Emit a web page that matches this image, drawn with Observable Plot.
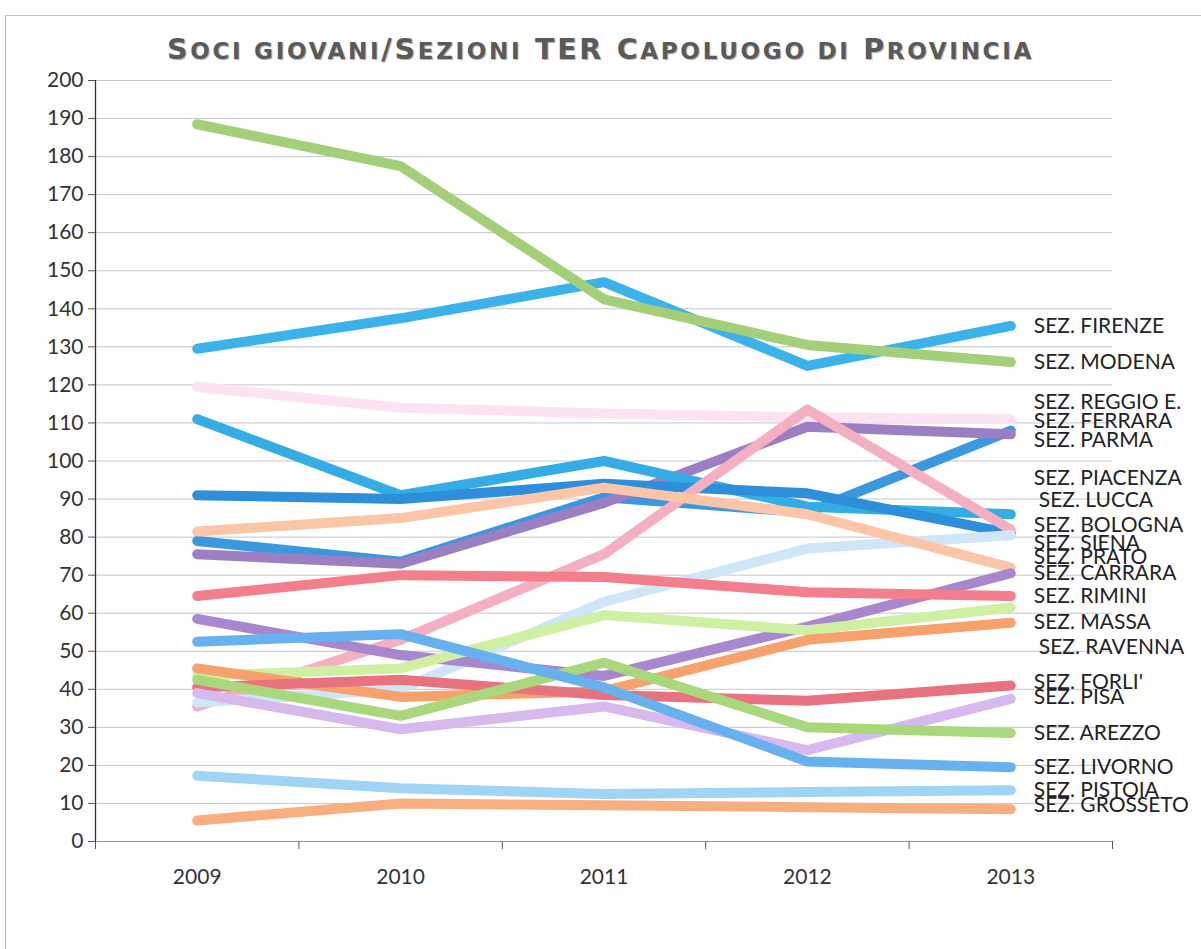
<!DOCTYPE html>
<html>
<head>
<meta charset="utf-8">
<script src="https://cdn.jsdelivr.net/npm/d3@7"></script>
<script src="https://cdn.jsdelivr.net/npm/@observablehq/plot@0.6"></script>
<style>
  html, body { margin: 0; padding: 0; background: #fff; }
  body { width: 1201px; height: 949px; overflow: hidden; position: relative; font-family: Lato, "Open Sans", sans-serif; }
  #frame { position: absolute; left: 5px; top: 15px; width: 1196px; height: 934px; border-left: 1px solid #b8b8b8; border-top: 1px solid #c4c4c4; box-sizing: border-box; }
  #title { position: absolute; top: 36px; left: 0; width: 1201px; text-align: center; white-space: nowrap; font-family: "DejaVu Sans", Verdana, sans-serif; font-weight: bold; color: #5a5a5a; text-shadow: 1px 1px 1px #b0b0b0; line-height: 1; }
  #title .b { font-size: 28.5px; }
  #title .s { font-size: 23px; }
  #chart { position: absolute; top: 70px; left: 0; }
</style>
</head>
<body>
<div id="frame"></div>
<div id="title"><span id="tt"><span class="b">S</span><span class="s">OCI GIOVANI</span><span class="b">/S</span><span class="s">EZIONI</span><span class="b"> TER C</span><span class="s">APOLUOGO DI</span><span class="b"> P</span><span class="s">ROVINCIA</span></span></div>
<div id="chart"></div>
<script>
// ---- data ----
const years = [2009, 2010, 2011, 2012, 2013];
const yTicks = [0, 10, 20, 30, 40, 50, 60, 70, 80, 90, 100, 110, 120, 130, 140, 150, 160, 170, 180, 190, 200];

const sections = [
  "SEZ. FIRENZE", "SEZ. MODENA", "SEZ. REGGIO E.", "SEZ. FERRARA", "SEZ. PARMA",
  "SEZ. PIACENZA", "SEZ. LUCCA", "SEZ. BOLOGNA", "SEZ. SIENA", "SEZ. PRATO",
  "SEZ. CARRARA", "SEZ. RIMINI", "SEZ. MASSA", "SEZ. RAVENNA", "SEZ. FORLI'",
  "SEZ. PISA", "SEZ. AREZZO", "SEZ. LIVORNO", "SEZ. PISTOIA", "SEZ. GROSSETO"
];

const firenze  = [129.5, 137.5, 147, 125, 135.5];
const modena   = [188.5, 177.5, 142.5, 130.5, 126];
const reggioE  = [119.5, 114, 112.5, 111.5, 111];
const ferrara  = [79, 73.5, 90.5, 86.5, 108];
const parma    = [75.5, 73, 89, 109, 107];
const piacenza = [111, 91, 100, 88, 86];
const lucca    = [91, 90, 94, 91.5, 81];
const bologna  = [35.5, 53, 75.5, 113.5, 82];
const siena    = [36.5, 40, 63, 77, 80.5];
const prato    = [81.5, 85, 93, 86, 72];
const carrara  = [58.5, 49, 43.5, 56.5, 70.5];
const rimini   = [64.5, 70, 69.5, 65.5, 64.5];
const massa    = [43.5, 45.5, 59.5, 55.5, 61.5];
const ravenna  = [45.5, 38, 39.5, 53, 57.5];
const forli    = [40.5, 42.5, 38.5, 37, 41];
const pisa     = [39, 29.5, 35.5, 24, 37.5];
const arezzo   = [42.5, 33, 47, 30, 28.5];
const livorno  = [52.5, 54.5, 40.5, 21, 19.5];
const pistoia  = [17.3, 14, 12.5, 13, 13.5];
const grosseto = [5.5, 10, 9.5, 9, 8.5];

const seriesValues = [firenze, modena, reggioE, ferrara, parma, piacenza, lucca, bologna, siena, prato,
  carrara, rimini, massa, ravenna, forli, pisa, arezzo, livorno, pistoia, grosseto];

// ---- styling ----
const palette = [
  "#3bb3ea", "#a3cf78", "#fbe3f3", "#3a98de", "#9b7fc2",
  "#34ade4", "#2d8ed9", "#f4afc1", "#cfe6f8", "#fbc6a8",
  "#a987cf", "#f27f8b", "#cff0a2", "#f7a26c", "#e8727f",
  "#d6baed", "#a9d77b", "#67b1ee", "#9fd4f5", "#f9ae7f"
];
// vertical nudges for end labels (in value units), as in the original layout
const labelNudge = {
  "SEZ. REGGIO E.": 4.5, "SEZ. FERRARA": 2.4, "SEZ. PARMA": -1.6, "SEZ. PIACENZA": 9.4,
  "SEZ. LUCCA": 8.6, "SEZ. BOLOGNA": 1, "SEZ. SIENA": -2.2, "SEZ. PRATO": 2.6,
  "SEZ. MASSA": -3.9, "SEZ. RAVENNA": -6.5, "SEZ. FORLI'": 0.8, "SEZ. PISA": 0.3,
  "SEZ. GROSSETO": 1
};
const labelDx = { "SEZ. LUCCA": 5, "SEZ. RAVENNA": 5 };

const rows = sections.flatMap((s, i) => years.map((yr, j) => ({ section: s, year: yr, value: seriesValues[i][j] })));
const lastYear = years[years.length - 1];
const ends = sections.map((s, i) => ({
  section: s, year: lastYear,
  labelValue: seriesValues[i][years.length - 1] + (labelNudge[s] || 0),
  dx: 23 + (labelDx[s] || 0)
}));
const boundaries = [years[0] - 0.5, ...years.map(y => y + 0.5)];

const chart = Plot.plot({
  width: 1201,
  height: 879,
  marginLeft: 95,
  marginRight: 89,
  marginTop: 10,
  marginBottom: 108,
  style: { fontFamily: "Lato, 'Open Sans', sans-serif", color: "#333", background: "transparent", overflow: "visible" },
  x: { domain: [years[0] - 0.5, lastYear + 0.5], axis: null, label: null },
  y: { domain: [0, 200], axis: null, label: null },
  color: { domain: sections, range: palette },
  marks: [
    Plot.gridY(yTicks.filter(d => d > 0), { stroke: "#c6c6cc", strokeOpacity: 1, strokeWidth: 1 }),
    Plot.ruleY([0], { stroke: "#9a9a9a", strokeWidth: 1.2 }),
    Plot.ruleX([years[0] - 0.5], { stroke: "#333", strokeWidth: 1.3 }),
    Plot.axisY({ ticks: yTicks, tickSize: 7, tickPadding: 5, fontSize: 21, tickFormat: d => String(d), stroke: "#555", label: null }),
    Plot.axisX({ ticks: boundaries, tickSize: 8, tickFormat: () => "", stroke: "#555", label: null }),
    Plot.axisX({ ticks: years, tickSize: 0, tickPadding: 28, fontSize: 21, tickFormat: d => String(d), label: null }),
    Plot.line(rows, {
      x: "year", y: "value", z: "section", stroke: "section",
      strokeWidth: 10, strokeLinecap: "round", strokeLinejoin: "round"
    }),
    Plot.text(ends, {
      x: "year", y: "labelValue", text: "section", textAnchor: "start",
      fontSize: 21, fill: "#222"
    })
  ]
});
document.getElementById("chart").appendChild(chart);

// per-label horizontal offsets
const texts = chart.querySelectorAll("g[aria-label='text'] text");
texts.forEach((t, i) => {
  const d = ends[i];
  t.setAttribute("transform", (t.getAttribute("transform") || "") + ` translate(${d.dx},0)`);
});

// stretch the title to the original's width (~867px) with letter spacing
const tt = document.getElementById("tt");
const target = 867;
const w0 = tt.getBoundingClientRect().width;
const nChars = tt.textContent.length;
const ls = Math.max(0, (target - w0) / nChars);
tt.querySelectorAll("span").forEach(s => s.style.letterSpacing = ls + "px");
</script>
</body>
</html>
